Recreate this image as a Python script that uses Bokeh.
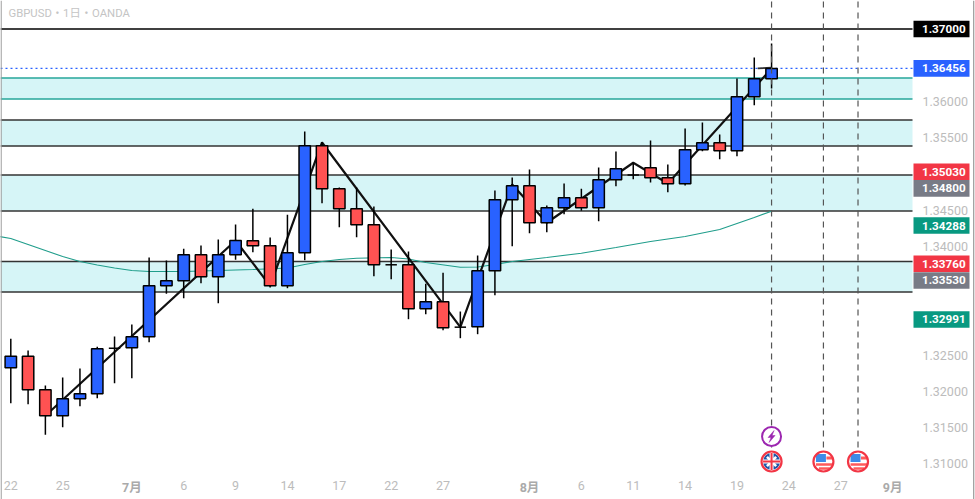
from bokeh.plotting import figure
from bokeh.embed import file_html
from bokeh.resources import INLINE
from bokeh.models import Range1d, FixedTicker
from bokeh.core.properties import value

# ---- data ----
title_text = "GBPUSD・1日・OANDA"
open_ = [1.32325,1.32485,1.32021,1.31662,1.31897,1.31966,1.32587,1.32601,1.32752,1.33456,1.33525,1.33884,1.33580,1.33884,1.34077,1.34008,1.33456,1.33912,1.35388,1.34795,1.34519,1.34298,1.33746,1.33746,1.33139,1.33235,1.32885,1.32890,1.33663,1.34643,1.34836,1.34326,1.34533,1.34671,1.34533,1.34919,1.34985,1.35085,1.34947,1.34864,1.35333,1.35430,1.35319,1.36064,1.36313]
close = [1.32485,1.32021,1.31662,1.31897,1.31966,1.32587,1.32595,1.32752,1.33456,1.33525,1.33884,1.33580,1.33884,1.34081,1.34008,1.33456,1.33912,1.35388,1.34795,1.34519,1.34298,1.33746,1.33746,1.33139,1.33235,1.32877,1.32885,1.33663,1.34643,1.34836,1.34326,1.34533,1.34671,1.34533,1.34919,1.35071,1.34985,1.34947,1.34864,1.35333,1.35430,1.35319,1.36064,1.36313,1.36456]
high  = [1.32725,1.32563,1.32080,1.32191,1.32315,1.32614,1.32756,1.32922,1.33847,1.33805,1.33967,1.34012,1.34095,1.34302,1.34519,1.34123,1.34436,1.35585,1.35438,1.34813,1.34813,1.34550,1.33957,1.33929,1.33484,1.33636,1.33101,1.33874,1.34771,1.34951,1.35061,1.34564,1.34868,1.34795,1.35089,1.35310,1.35154,1.35461,1.35130,1.35627,1.35710,1.35544,1.36317,1.36607,1.36800]
low   = [1.31836,1.31822,1.31400,1.31505,1.31795,1.31905,1.32112,1.32181,1.32678,1.33346,1.33285,1.33492,1.33216,1.33815,1.33920,1.33433,1.33423,1.33809,1.34596,1.34265,1.34127,1.33589,1.33547,1.32995,1.33064,1.32843,1.32733,1.32788,1.33326,1.34003,1.34182,1.34196,1.34444,1.34491,1.34348,1.34831,1.34927,1.34882,1.34748,1.34840,1.35314,1.35203,1.35245,1.35948,1.36179]
is_doji = [6, 22, 26, 36]

zig_idx = [2, 13, 15, 18, 26, 29, 31, 36, 38, 44]
zig_px  = [1.31662,1.34081,1.33456,1.35434,1.32885,1.34854,1.34326,1.35154,1.34868,1.36455]
zig2_idx = [43.2, 44]
zig2_px  = [1.36456,1.36465]

ma_idx = [-1,0,1,2,3,4,5,6,7,8,10,12,14,16,17,18,19,20,22,23,24,26,27,28,29,30,31,33,35,37,39,41,43,44]
ma_px  = [1.34150,1.34109,1.34026,1.33943,1.33860,1.33791,1.33743,1.33702,1.33667,1.33653,1.33653,1.33667,1.33681,1.33702,1.33750,1.33791,1.33819,1.33837,1.33847,1.33826,1.33778,1.33713,1.33716,1.33750,1.33791,1.33819,1.33847,1.33906,1.33985,1.34067,1.34136,1.34233,1.34399,1.34486]

band_top = [1.36324,1.35744,1.34985,1.33791]
band_bot = [1.36034,1.35385,1.34488,1.33371]
band_line = ["#26a69a","#333333","#333333","#333333"]
top_level = 1.37
last_price = 1.36456

box_vals = [1.37000,1.36456,1.35030,1.34800,1.34288,1.33760,1.33530,1.32991]
box_cols = ["#000000","#2962ff","#f23645","#787b86","#089981","#f23645","#787b86","#089981"]

y_ticks = [1.31,1.315,1.32,1.325,1.34,1.345,1.355,1.36]
x_tick_idx = [0,3,10,13,16,19,22,25,33,36,39,42,45,48]
x_tick_txt = ["22","25","6","9","14","17","22","27","6","11","14","19","24","27"]
month_idx = [7,30,51]
month_txt = ["7月","8月","9月"]

event_idx = [44,47,49]
event_flag = ["uk","us","us"]
bolt_idx = 44
vline_end = 1.3117
bolt_y = 1.31376
flag_y = 1.31031

# ---- page geometry ----
PX_X = 17.29          # pixels per candle
PX_Y = 7246.0         # pixels per price unit
def ix(px): return (px - 10.3) / PX_X
def py(px): return 1.37 - (px - 28.5) / PX_Y
def dxp(px): return px / PX_X
def dyp(px): return px / PX_Y

p = figure(width=975, height=499, frame_width=975, frame_height=499,
           x_range=Range1d(ix(0), ix(975)), y_range=Range1d(py(499), py(0)),
           y_axis_location="right", toolbar_location=None, output_backend="svg",
           min_border=0)
p.outline_line_color = None
p.grid.visible = False
p.background_fill_color = "white"

# axes placed inside the full-page frame
GREY = "#bcbcbc"
FONT = "Roboto"
ya = p.yaxis[0]
ya.fixed_location = ix(912)
ya.ticker = FixedTicker(ticks=y_ticks)
ya.formatter.use_scientific = False
ya.major_label_overrides = {t: f"{t:.5f}" for t in y_ticks}
xa = p.xaxis[0]
xa.fixed_location = py(472)
xa.ticker = FixedTicker(ticks=x_tick_idx)
xa.major_label_overrides = dict(zip(x_tick_idx, x_tick_txt))
for a in (xa, ya):
    a.axis_line_color = None
    a.major_tick_line_color = None
    a.minor_tick_line_color = None
    a.major_tick_out = 0
    a.major_tick_in = 0
    a.major_label_text_color = GREY
    a.major_label_text_font = FONT
    a.major_label_text_font_size = "12.5px"
ya.major_label_standoff = 10
xa.major_label_standoff = 8

# bands and levels
xl, xr = ix(0), ix(912)
p.quad(left=xl, right=xr, top=band_top, bottom=band_bot, fill_color="#d6f5f7", line_color=None)
for t, b, c in zip(band_top, band_bot, band_line):
    p.line([xl, xr], [t, t], line_color=c, line_width=1.5)
    p.line([xl, xr], [b, b], line_color=c, line_width=1.5)
p.line([xl, xr], [top_level, top_level], line_color="#000000", line_width=1.5)
p.line([xl, xr], [last_price, last_price], line_color="#2962ff", line_width=1.4, line_dash="2 3")

# moving average and zigzag
p.line(ma_idx, ma_px, line_color="#1f9d8b", line_width=1.1)
p.line(zig_idx, zig_px, line_color="#111111", line_width=2.2)
p.line(zig2_idx, zig2_px, line_color="#333333", line_width=1.8)

# candles
xs = list(range(len(open_)))
p.segment(xs, high, xs, low, line_color="#000000", line_width=1.5)
bw = 0.66
for i in xs:
    top, bot = max(open_[i], close[i]), min(open_[i], close[i])
    col = "#ff5252" if close[i] < open_[i] else "#2962ff"
    if i in is_doji:
        p.segment(i - bw/2, close[i], i + bw/2, close[i], line_color="#000000", line_width=1.5)
    else:
        p.quad(left=i - bw/2, right=i + bw/2, top=top, bottom=bot,
               fill_color=col, line_color="#000000", line_width=1.5)

# event lines and icons
p.segment(event_idx, [py(-10)]*3, event_idx, [vline_end]*3, line_color="#555555", line_width=1.2, line_dash="6 5")
RED = "#f23645"
def stripe(i, dx, up, w, h, col):
    p.rect([i + dxp(dx)], [flag_y + dyp(up)], width=w, height=h, width_units="screen", height_units="screen",
           fill_color=col, line_color=None)
for i, f in zip(event_idx, event_flag):
    p.scatter([i], [flag_y], marker="circle", size=20, fill_color="white", line_color=None)
    if f == "uk":
        p.scatter([i], [flag_y], marker="circle", size=17, fill_color="#1f56a8", line_color=None)
        p.scatter([i], [flag_y], marker="x", size=13, line_color="white", line_width=2.6, fill_color=None)
        p.scatter([i], [flag_y], marker="cross", size=17, line_color="white", line_width=4, fill_color=None)
        p.scatter([i], [flag_y], marker="cross", size=17, line_color=RED, line_width=2, fill_color=None)
    else:
        stripe(i, 6, 3.5, 6, 3, "#ff5a5a")
        stripe(i, 1, -3, 17, 2.5, "#ff5a5a")
        stripe(i, 1, -7, 11, 2.5, "#ff5a5a")
        stripe(i, -2.5, 3.5, 10, 8, "#3d8be8")
    p.scatter([i], [flag_y], marker="circle", size=20, fill_color=None, line_color=RED, line_width=2.2)

p.scatter([bolt_idx], [bolt_y], marker="circle", size=19, fill_color="white", line_color="#9c27b0", line_width=2)
bolt_dx = [2.5, -3.5, -0.5, -2.5, 3.5, 0.5]
bolt_up = [6, -1, -1, -6, 1, 1]
p.patch([bolt_idx + dxp(d) for d in bolt_dx], [bolt_y + dyp(u) for u in bolt_up],
        fill_color="#9c27b0", line_color="#9c27b0", line_width=0.5)

# price boxes
p.quad(left=ix(913), right=ix(969), top=[v + dyp(8.3) for v in box_vals], bottom=[v - dyp(8.3) for v in box_vals],
       fill_color=box_cols, line_color=None)
p.text([ix(921.5)]*len(box_vals), box_vals, text=[f"{v:.5f}" for v in box_vals], text_color="white",
       text_font=value(FONT), text_font_size="11.7px", text_font_style="bold",
       text_baseline="middle", text_align="left")

# month labels
p.text(month_idx, [py(487)]*3, text=month_txt, text_color="#aaaaaa",
       text_font=value("Roboto, 'Noto Sans CJK JP'"), text_font_size="12.5px", text_font_style="bold",
       text_baseline="middle", text_align="center")

# title
p.text([ix(8)], [py(13)], text=[title_text], text_color="#c4c4c4",
       text_font=value("Roboto, 'Noto Sans CJK JP'"), text_font_size="11.3px",
       text_baseline="middle", text_align="left")

# edges of the widget
p.quad(left=[ix(0), ix(972.6)], right=[ix(1.2), ix(973.8)], top=py(0), bottom=py(499),
       fill_color="#9a9a9a", line_color=None)

open("out.html", "w").write(file_html(p, INLINE))
